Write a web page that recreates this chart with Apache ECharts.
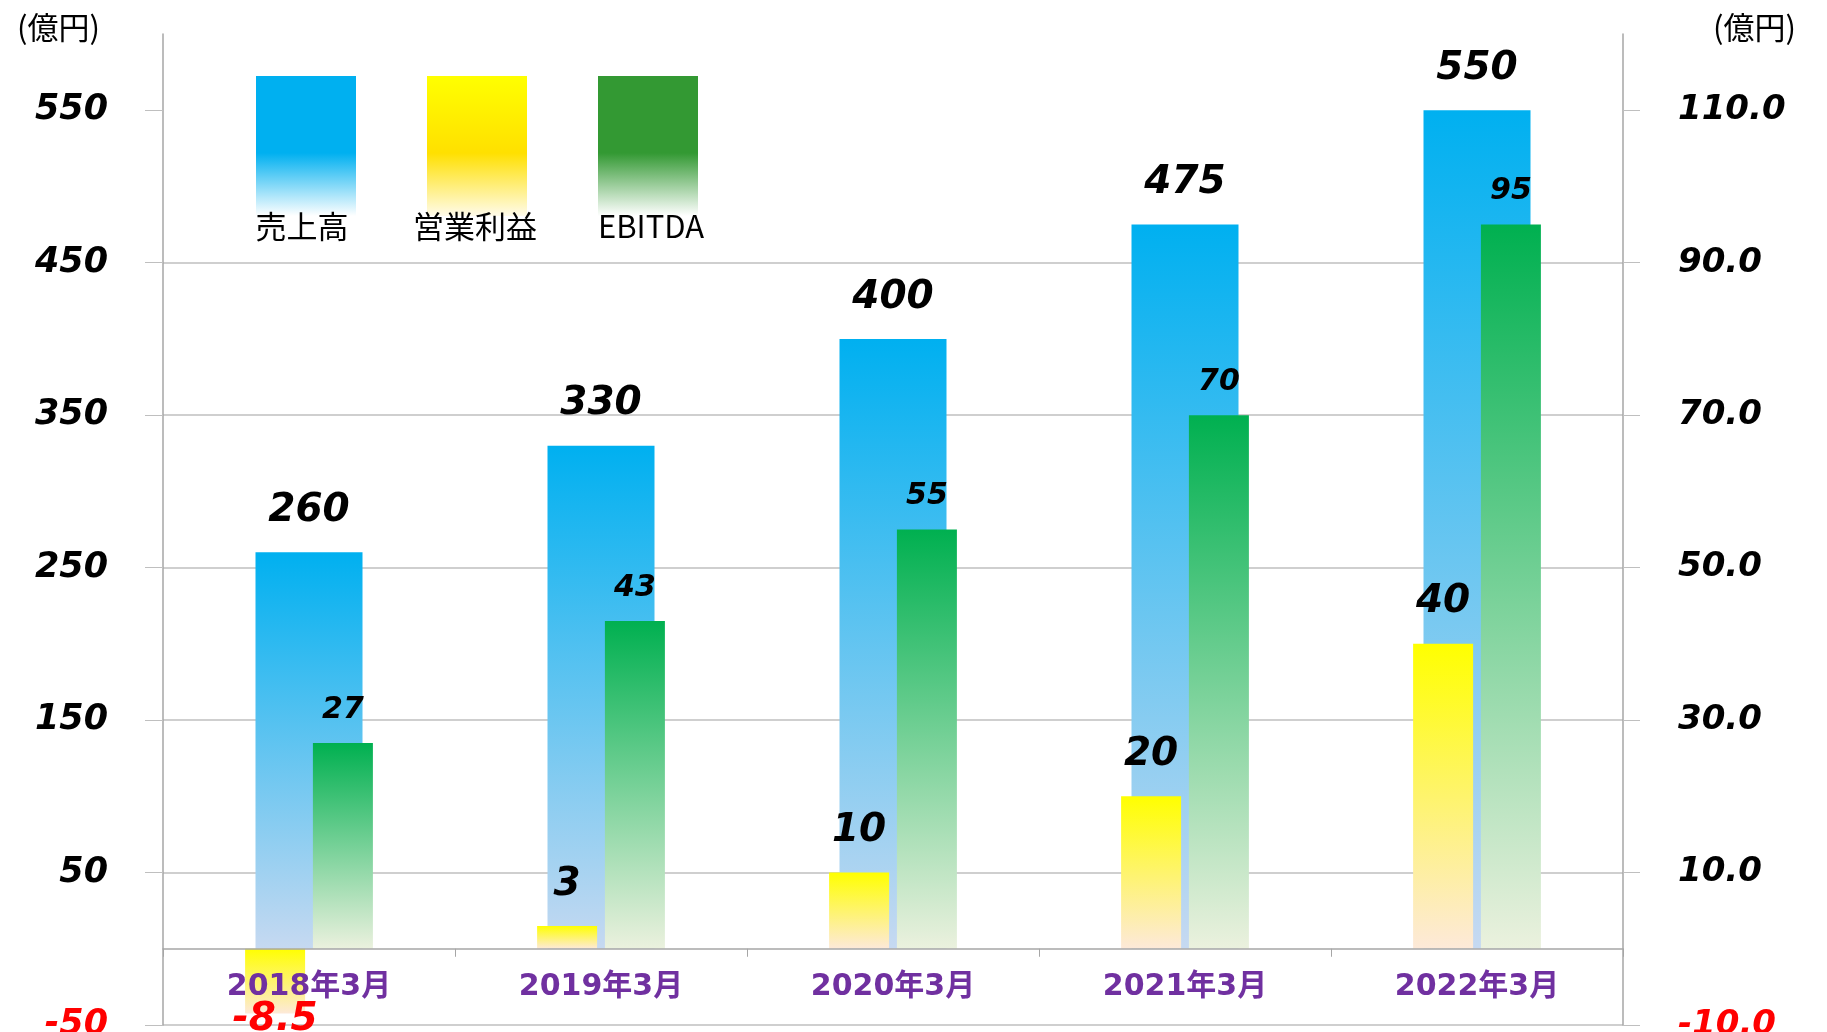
<!DOCTYPE html>
<html>
<head>
<meta charset="utf-8">
<script src="https://cdn.jsdelivr.net/npm/echarts@6/dist/echarts.min.js"></script>
<style>
  html, body { margin: 0; padding: 0; background: #fff; }
  #main { width: 1827px; height: 1032px; }
</style>
</head>
<body>
<div id="main"></div>
<script>
var chartDom = document.getElementById('main');
var myChart = echarts.init(chartDom);

const categories = ['2018年3月', '2019年3月', '2020年3月', '2021年3月', '2022年3月'];
const sales = [260, 330, 400, 475, 550];
const operatingProfit = [-8.5, 3, 10, 20, 40];
const ebitda = [27, 43, 55, 70, 95];
const leftTicks = [-50, 50, 150, 250, 350, 450, 550];
const rightTicks = [-10, 10, 30, 50, 70, 90, 110];
const legendNames = ['売上高', '営業利益', 'EBITDA'];

const numFont = "'DejaVu Sans', Verdana, sans-serif";
const jpFont = "'Noto Sans CJK JP', sans-serif";

function grad(stops) {
  return new echarts.graphic.LinearGradient(0, 0, 0, 1,
    stops.map(s => ({ offset: s[0], color: s[1] })));
}

const bigLabel = {
  show: true,
  position: 'top',
  distance: 22,
  fontFamily: numFont,
  fontWeight: 'bold',
  fontStyle: 'italic',
  fontSize: 39,
  color: '#000'
};

// negative values get their label under the bar, in red
const profitData = operatingProfit.map(v => v < 0
  ? { value: v, label: { position: 'bottom', distance: -13, color: '#FF0000' } }
  : v);

// legend names sit under the swatches
const legendText = (name, x) => ({
  type: 'text', x: x, y: 226, z: 100,
  style: { text: name, align: 'center', verticalAlign: 'middle', font: '31px ' + jpFont, fill: '#000' }
});

const option = {
  animation: false,
  backgroundColor: '#fff',
  grid: { left: 163, right: 204, top: 34, bottom: 7, outerBoundsMode: 'none' },
  legend: {
    left: 251,
    top: 71,
    icon: 'rect',
    itemWidth: 100,
    itemHeight: 140,
    itemGap: 71,
    selectedMode: false,
    formatter: () => '',
    data: [
      { name: legendNames[0], itemStyle: { color: grad([[0, '#00B0F0'], [0.55, '#00B0F0'], [1, '#FFFFFF']]) } },
      { name: legendNames[1], itemStyle: { color: grad([[0, '#FFFF00'], [0.55, '#FFE000'], [1, '#FFFBEA']]) } },
      { name: legendNames[2], itemStyle: { color: grad([[0, '#339933'], [0.55, '#339933'], [1, '#FFFFFF']]) } }
    ]
  },
  graphic: [
    legendText(legendNames[0], 302),
    legendText(legendNames[1], 475),
    legendText(legendNames[2], 651)
  ],
  xAxis: [
    {
      type: 'category',
      data: categories,
      z: 5,
      axisLine: { onZero: true, lineStyle: { color: '#a6a6a6', width: 1.5 } },
      axisTick: { show: true, length: 8, lineStyle: { color: '#a6a6a6' } },
      // labels stay at the grid bottom in v6, so pull them up under the zero line
      axisLabel: {
        margin: -53,
        fontFamily: "'DejaVu Sans', 'Noto Sans CJK JP', sans-serif",
        fontWeight: 'bold',
        fontSize: 30,
        color: '#7030A0'
      },
      splitLine: { show: false }
    },
    { type: 'category', data: categories, show: false }
  ],
  yAxis: [
    {
      type: 'value',
      min: -50,
      max: 600,
      interval: 100,
      name: '(億円)',
      nameLocation: 'end',
      nameGap: 7,
      nameTextStyle: { fontFamily: jpFont, fontSize: 31, color: '#000', align: 'right', verticalAlign: 'middle', padding: [0, 63, 0, 0] },
      axisLine: { show: true, lineStyle: { color: '#a6a6a6', width: 1.5 } },
      axisTick: { show: true, length: 18, customValues: leftTicks, lineStyle: { color: '#bfbfbf' } },
      axisLabel: {
        customValues: leftTicks,
        margin: 55,
        fontFamily: numFont,
        fontWeight: 'bold',
        fontStyle: 'italic',
        fontSize: 35,
        color: v => Number(v) < 0 ? '#FF0000' : '#000'
      },
      splitLine: { show: true, showMaxLine: false, lineStyle: { color: '#bfbfbf', width: 1.5 } }
    },
    {
      type: 'value',
      min: -10,
      max: 120,
      interval: 20,
      position: 'right',
      name: '(億円)',
      nameLocation: 'end',
      nameGap: 7,
      nameTextStyle: { fontFamily: jpFont, fontSize: 31, color: '#000', align: 'left', verticalAlign: 'middle', padding: [0, 0, 0, 90] },
      axisLine: { show: true, lineStyle: { color: '#a6a6a6', width: 1.5 } },
      axisTick: { show: true, length: 17, customValues: rightTicks, lineStyle: { color: '#bfbfbf' } },
      axisLabel: {
        customValues: rightTicks,
        margin: 55,
        formatter: v => Number(v).toFixed(1),
        fontFamily: numFont,
        fontWeight: 'bold',
        fontStyle: 'italic',
        fontSize: 34,
        color: v => Number(v) < 0 ? '#FF0000' : '#000'
      },
      splitLine: { show: false }
    }
  ],
  series: [
    {
      name: legendNames[0],
      type: 'bar',
      xAxisIndex: 0,
      yAxisIndex: 0,
      barWidth: 107,
      data: sales,
      itemStyle: { color: grad([[0, '#00B0F0'], [1, '#C6D9F1']]) },
      label: bigLabel
    },
    {
      name: legendNames[1],
      type: 'bar',
      xAxisIndex: 1,
      yAxisIndex: 1,
      barWidth: 60,
      barGap: '13%',
      data: profitData,
      itemStyle: { color: grad([[0, '#FFFF00'], [1, '#FDE9D9']]) },
      label: bigLabel
    },
    {
      name: legendNames[2],
      type: 'bar',
      xAxisIndex: 1,
      yAxisIndex: 1,
      barWidth: 60,
      barGap: '13%',
      data: ebitda,
      itemStyle: { color: grad([[0, '#00B050'], [1, '#EBF1DE']]) },
      label: Object.assign({}, bigLabel, { fontSize: 30, distance: 18 })
    }
  ]
};

option && myChart.setOption(option);
</script>
</body>
</html>
